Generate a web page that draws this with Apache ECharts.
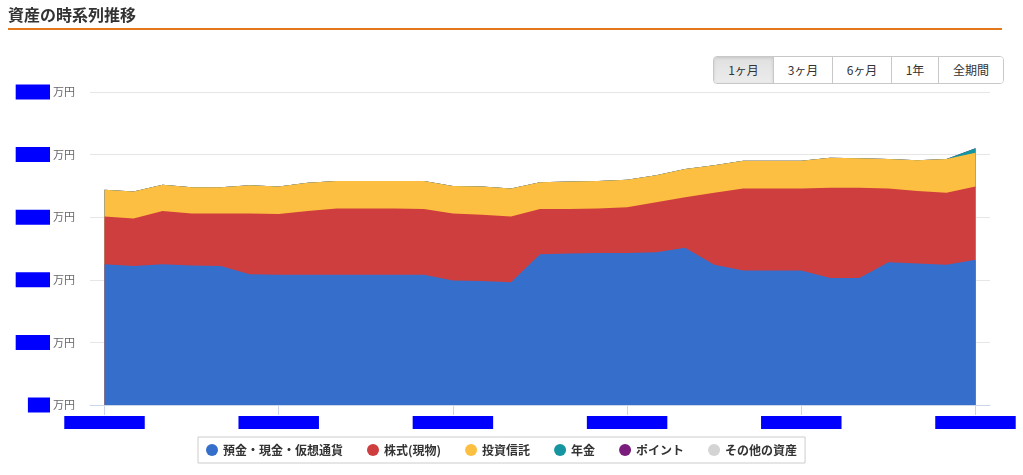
<!DOCTYPE html>
<html><head><meta charset="utf-8">
<script src="https://cdn.jsdelivr.net/npm/echarts@6/dist/echarts.min.js"></script>
<style>
body{margin:0;background:#fff;font-family:"Noto Sans CJK JP","Noto Sans",sans-serif;}
#wrap{position:relative;width:1023px;height:475px;overflow:hidden;background:#fff}
#chart{position:absolute;left:0;top:0;width:1023px;height:475px}
#title{position:absolute;left:8px;top:2px;font-size:16px;font-weight:bold;color:#333;line-height:24px}
#rule{position:absolute;left:8px;top:28px;width:994px;height:2px;background:#e4771c}
#btns{position:absolute;left:713px;top:56px;display:flex;border:1px solid #c8c8c8;border-radius:4px;overflow:hidden;z-index:2}
#btns div{height:26px;line-height:26px;font-size:12px;color:#333;text-align:center;border-left:1px solid #c8c8c8;background:#fff}
#btns div:first-child{border-left:none;background:linear-gradient(#e0e0e0,#ececec);box-shadow:inset 0 1px 3px rgba(0,0,0,0.12)}
</style></head>
<body><div id="wrap">
<div id="chart"></div>
<div id="title">資産の時系列推移</div>
<div id="rule"></div>
<div id="btns"><div style="width:59px">1ヶ月</div><div style="width:58px">3ヶ月</div><div style="width:58px">6ヶ月</div><div style="width:46px">1年</div><div style="width:64px">全期間</div></div>
</div>
<script>
const dates = ['2020-12-17','2020-12-18','2020-12-19','2020-12-20','2020-12-21','2020-12-22','2020-12-23','2020-12-24','2020-12-25','2020-12-26','2020-12-27','2020-12-28','2020-12-29','2020-12-30','2020-12-31','2021-01-01','2021-01-02','2021-01-03','2021-01-04','2021-01-05','2021-01-06','2021-01-07','2021-01-08','2021-01-09','2021-01-10','2021-01-11','2021-01-12','2021-01-13','2021-01-14','2021-01-15','2021-01-16'];
const tickIndex = [0, 6, 12, 18, 24, 30];
const yTicks = [0, 100, 200, 300, 400, 500];
const seriesNames = ['預金・現金・仮想通貨','株式(現物)','投資信託','年金','ポイント','その他の資産'];
const cash    = [225,222,225,223,222,209,208,208,208,208,208,208,199,198,196,241,242,243,243,244,251,224,215,215,215,203,203,228,226,224,232];
const stocks  = [76,76,85,83,84,97,97,102,106,106,106,105,107,106,105,72,71,71,73,80,81,115,131,131,131,144,144,118,116,115,117];
const funds   = [43,43,42,42,42,45,44,45,44,44,44,45,44,45,45,43,44,44,44,43,45,44,44,44,44,48,47,47,49,54,54];
const pension = [0,0,0,0,0,0,0,0,0,0,0,0,0,0,0,0,0,0,0,0,0,0,0,0,0,0,0,0,0,0,7];
const points  = [0,0,0,0,0,0,0,0,0,0,0,0,0,0,0,0,0,0,0,0,0,0,0,0,0,0,0,0,0,0,0];
const others  = [0,0,0,0,0,0,0,0,0,0,0,0,0,0,0,0,0,0,0,0,0,0,0,0,0,0,0,0,0,0,0];
const colors = ['#356fcb','#cf3e3e','#fdbf42','#14959f','#7a1d7d','#d4d4d4'];

const chart = echarts.init(document.getElementById('chart'), null, {renderer:'canvas'});
const values = [cash, stocks, funds, pension, points, others];
// cumulative stacking computed from the values (bottom layer drawn on top)
const cum = [];
values.forEach((arr, k) => {
  cum.push(arr.map((v, i) => v + (k > 0 ? cum[k - 1][i] : 0)));
});
const ff = '"Noto Sans CJK JP","Noto Sans",sans-serif';
const series = cum.map((arr, k) => ({
  name: seriesNames[k], type: 'line', symbol: 'none', smooth: false,
  z: 20 - k,
  lineStyle: {width: 0}, itemStyle: {color: colors[k]},
  areaStyle: {color: colors[k], opacity: 1},
  data: arr.map((v, i) => [i, v])
}));
chart.setOption({
  animation: false,
  textStyle: {fontFamily: ff},
  grid: {left: 90, right: 33, top: 92, bottom: 70},
  xAxis: {
    type: 'value', min: -0.5, max: 30.5,
    axisLine: {show: true, onZero: false, lineStyle: {color: '#ccd6eb'}},
    axisTick: {show: true, length: 10, customValues: tickIndex, lineStyle: {color: '#ccd6eb'}},
    splitLine: {show: false},
    axisLabel: {
      customValues: tickIndex, margin: 11,
      formatter: v => '{r|' + dates[v] + '}',
      rich: {r: {color: '#0000ff', backgroundColor: '#0000ff', fontSize: 11, padding: [1, 12]}}
    }
  },
  yAxis: {
    type: 'value', min: 0, max: 500, interval: 100,
    axisLine: {show: false}, axisTick: {show: false},
    splitLine: {lineStyle: {color: '#e6e6e6'}},
    axisLabel: {
      margin: 15,
      formatter: v => '{r|' + v + '}{u|万円}',
      rich: {
        r: {color: '#0000ff', backgroundColor: '#0000ff', fontSize: 11, padding: [2, 8]},
        u: {color: '#666', fontSize: 11, padding: [0, 0, 0, 3]}
      }
    }
  },
  legend: {
    data: seriesNames, left: 198, top: 437,
    icon: 'circle', itemWidth: 12, itemHeight: 12, itemGap: 24,
    borderColor: '#cccccc', borderWidth: 1, borderRadius: 0, padding: [7, 8],
    textStyle: {color: '#333', fontSize: 12, fontWeight: 'bold', fontFamily: ff}
  },
  series: series
});
</script>
</body></html>
